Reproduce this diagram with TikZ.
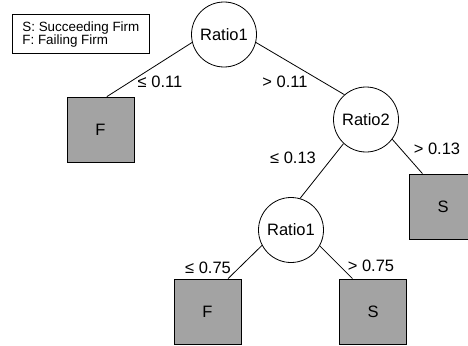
\documentclass[tikz,border=0pt]{standalone}
\usepackage{fontspec}
\setmainfont{Liberation Sans}
\usetikzlibrary{positioning}
\definecolor{leafgray}{gray}{0.64}

\begin{document}
\begin{tikzpicture}
  [
      x=1pt, y=-1pt, line width=0.8pt,
      split/.style={circle, draw, minimum size=65pt, inner sep=0pt, font=\fontsize{16.5}{18}\selectfont},
      leaf/.style={rectangle, draw, fill=leafgray, minimum width=67pt, minimum height=65pt, inner sep=0pt, font=\fontsize{16.5}{18}\selectfont},
      cut/.style={inner sep=0pt, font=\fontsize{16.5}{18}\selectfont},
      key/.style={draw, anchor=north west, align=left, inner xsep=10pt, inner ysep=7pt, font=\fontsize{13.4}{13}\selectfont},
    ]
    \useasboundingbox (0,0) rectangle (468,345);
    \clip (0,0) rectangle (468,345);

    \node (legend) [key] at (12,14) {S: Succeeding Firm\\F: Failing Firm};

    \node (root) [split] at (224,34.5) {Ratio1};
    \node (r2) [split] at (366,119.5) {Ratio2};
    \node (r1) [split] at (291,230) {Ratio1};

    \node (fa) [leaf] at (100.5,129.5) {F};
    \node (sa) [leaf] at (443,206.5) {S};
    \node (fb) [leaf] at (207.5,311.5) {F};
    \node (sb) [leaf] at (373,311.5) {S};

    \foreach \i/\j in {root.194/fa.79, root.-14/r2.131, r2.227/r1.74,
                       r2.-37/sa.122, r1.208/fb.58, r1.-29/sb.122}
      \draw (\i) -- (\j);

    \node (c1) [cut] at (160,82) {≤ 0.11};
    \node (c2) [cut] at (285,82) {> 0.11};
    \node (c3) [cut] at (293,158) {≤ 0.13};
    \node (c4) [cut] at (437,149) {> 0.13};
    \node (c5) [cut] at (208,268) {≤ 0.75};
    \node (c6) [cut] at (371,266) {> 0.75};
  \end{tikzpicture}
\end{document}
